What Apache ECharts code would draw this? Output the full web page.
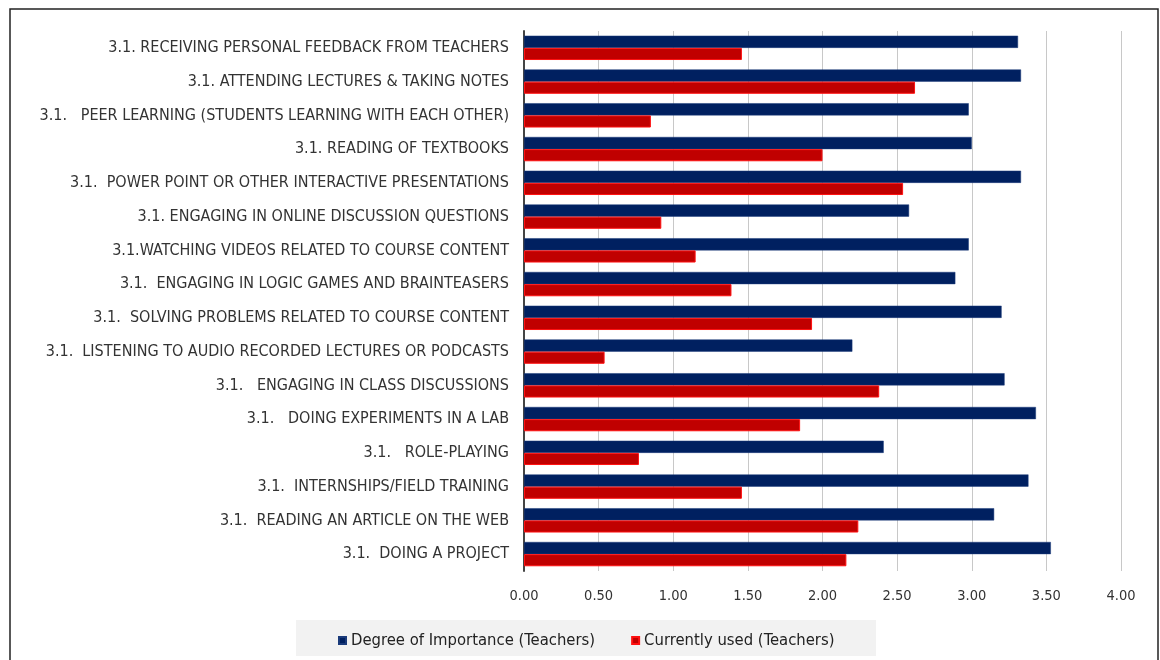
<!DOCTYPE html>
<html><head><meta charset="utf-8">
<script src="https://cdn.jsdelivr.net/npm/echarts@6/dist/echarts.min.js"></script>
<style>html,body{margin:0;padding:0;background:#fff}#c{width:1160px;height:660px}</style>
</head><body><div id="c"></div>
<script>
const categories = [
  "3.1. RECEIVING PERSONAL FEEDBACK FROM TEACHERS",
  "3.1. ATTENDING LECTURES & TAKING NOTES",
  "3.1.   PEER LEARNING (STUDENTS LEARNING WITH EACH OTHER)",
  "3.1. READING OF TEXTBOOKS",
  "3.1.  POWER POINT OR OTHER INTERACTIVE PRESENTATIONS",
  "3.1. ENGAGING IN ONLINE DISCUSSION QUESTIONS",
  "3.1.WATCHING VIDEOS RELATED TO COURSE CONTENT",
  "3.1.  ENGAGING IN LOGIC GAMES AND BRAINTEASERS",
  "3.1.  SOLVING PROBLEMS RELATED TO COURSE CONTENT",
  "3.1.  LISTENING TO AUDIO RECORDED LECTURES OR PODCASTS",
  "3.1.   ENGAGING IN CLASS DISCUSSIONS",
  "3.1.   DOING EXPERIMENTS IN A LAB",
  "3.1.   ROLE-PLAYING",
  "3.1.  INTERNSHIPS/FIELD TRAINING",
  "3.1.  READING AN ARTICLE ON THE WEB",
  "3.1.  DOING A PROJECT"
];
const importance = [3.31, 3.33, 2.98, 3.00, 3.33, 2.58, 2.98, 2.89, 3.20, 2.20, 3.22, 3.43, 2.41, 3.38, 3.15, 3.53];
const currentlyUsed = [1.46, 2.62, 0.85, 2.00, 2.54, 0.92, 1.15, 1.39, 1.93, 0.54, 2.38, 1.85, 0.77, 1.46, 2.24, 2.16];
const seriesNames = ["Degree of Importance (Teachers)", "Currently used (Teachers)"];

const font = "'Liberation Sans Narrow', 'DejaVu Sans Condensed', 'Liberation Sans', sans-serif";
const chart = echarts.init(document.getElementById('c'));
chart.setOption({
  animation: false,
  backgroundColor: '#fff',
  graphic: [
    {type: 'rect', shape: {x: 10, y: 9, width: 1148, height: 700}, style: {fill: 'none', stroke: '#222', lineWidth: 1.5}, silent: true},
    {type: 'rect', shape: {x: 296, y: 620, width: 580, height: 36}, style: {fill: '#f2f2f2'}, silent: true, z: -1}
  ],
  legend: {
    data: seriesNames,
    left: 333, top: 627,
    itemWidth: 7, itemHeight: 7, itemGap: 36,
    icon: 'rect',
    textStyle: {fontFamily: font, fontSize: 16.5, color: '#222'}
  },
  grid: {left: 524, right: 39, top: 31, bottom: 89, containLabel: false},
  xAxis: {
    type: 'value', min: 0, max: 4, interval: 0.5,
    axisLine: {show: false}, axisTick: {show: false},
    axisLabel: {formatter: v => v.toFixed(2), fontFamily: font, fontSize: 14.5, color: '#333', margin: 18},
    splitLine: {show: true, lineStyle: {color: '#c8c8c8', width: 1}}
  },
  yAxis: {
    type: 'category', data: categories, inverse: true,
    axisLine: {show: true, lineStyle: {color: '#444', width: 2}},
    axisTick: {show: false},
    axisLabel: {fontFamily: font, fontSize: 16, color: '#333', margin: 15}
  },
  series: [
    {name: seriesNames[0], type: 'bar', data: importance, barGap: '0%', barCategoryGap: '28%',
     itemStyle: {color: '#002060', borderColor: '#1a3a7a', borderWidth: 0.5}},
    {name: seriesNames[1], type: 'bar', data: currentlyUsed, barGap: '0%', barCategoryGap: '28%',
     itemStyle: {color: '#C00000', borderColor: '#FF1010', borderWidth: 1}}
  ]
});
</script></body></html>
